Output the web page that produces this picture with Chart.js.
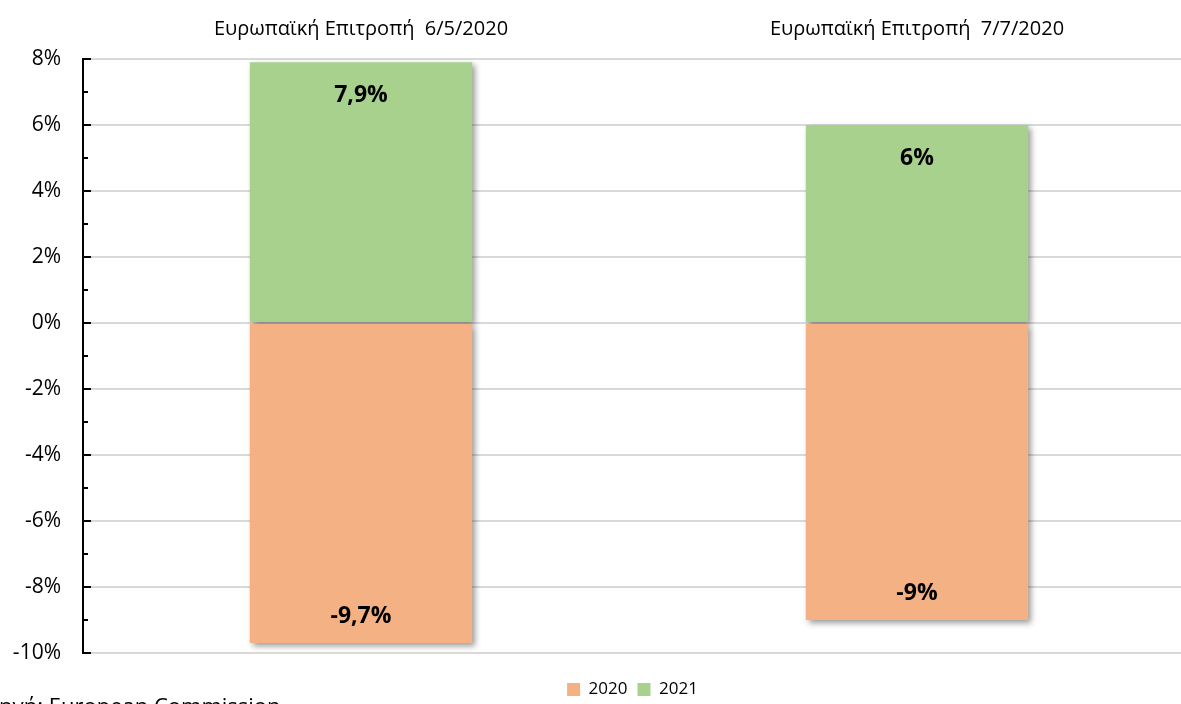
<!DOCTYPE html>
<html>
<head>
<meta charset="utf-8">
<script src="https://cdn.jsdelivr.net/npm/chart.js@4.4.1/dist/chart.umd.min.js"></script>
<style>
  html, body { margin: 0; padding: 0; background: #fff; overflow: hidden; }
  #wrap { width: 1200px; height: 704px; position: relative; }
</style>
</head>
<body>
<div id="wrap"><canvas id="myChart"></canvas></div>
<script>
var categories = ['Ευρωπαϊκή Επιτροπή  6/5/2020', 'Ευρωπαϊκή Επιτροπή  7/7/2020'];
var values2020 = [-9.7, -9];
var values2021 = [7.9, 6];
var yTicks = [-10, -8, -6, -4, -2, 0, 2, 4, 6, 8];
var sourceText = 'Πηγή: European Commission';

var FONT = "'Open Sans', 'Noto Sans', sans-serif";

// shadow under the bars
var barShadow = {
  id: 'barShadow',
  beforeDatasetsDraw: function (chart) {
    var ctx = chart.ctx;
    ctx.save();
    ctx.shadowColor = 'rgba(0,0,0,0.4)';
    ctx.shadowBlur = 6;
    ctx.shadowOffsetX = 3;
    ctx.shadowOffsetY = 3;
  },
  afterDatasetsDraw: function (chart) {
    chart.ctx.restore();
  }
};

// bold value labels inside the bar ends
var valueLabels = {
  id: 'valueLabels',
  afterDatasetsDraw: function (chart) {
    var ctx = chart.ctx;
    ctx.save();
    ctx.font = 'bold 23px ' + FONT;
    ctx.fillStyle = '#000';
    ctx.textAlign = 'center';
    ctx.textBaseline = 'middle';
    chart.data.datasets.forEach(function (ds, di) {
      chart.getDatasetMeta(di).data.forEach(function (bar, i) {
        var v = ds.data[i];
        var txt = String(v).replace('.', ',') + '%';
        var y = v >= 0 ? bar.y + 33 : bar.y - 27;
        ctx.fillText(txt, bar.x, y);
      });
    });
    ctx.restore();
  }
};

// move the legend a bit right, like the original
var legendShift = {
  id: 'legendShift',
  afterLayout: function (chart) {
    chart.legend.left += 35;
    chart.legend.right += 35;
  }
};

// inside tick marks on the y axis + source note
var axisExtras = {
  id: 'axisExtras',
  afterDraw: function (chart) {
    var ctx = chart.ctx;
    var y = chart.scales.y;
    var x0 = y.right;
    ctx.save();
    ctx.strokeStyle = '#000';
    ctx.lineWidth = 2;
    for (var v = y.min; v <= y.max; v++) {
      var py = Math.round(y.getPixelForValue(v));
      var len = (v % 2 === 0) ? 8 : 5;
      ctx.beginPath();
      ctx.moveTo(x0 - 1, py);
      ctx.lineTo(x0 + len, py);
      ctx.stroke();
    }
    ctx.font = '22px ' + FONT;
    ctx.fillStyle = '#000';
    ctx.textAlign = 'left';
    ctx.textBaseline = 'alphabetic';
    ctx.fillText(sourceText, -17, 714);
    ctx.restore();
  }
};

var data = {
  labels: categories,
  datasets: [
    {
      label: '2020',
      data: values2020,
      backgroundColor: '#F4B183',
      barPercentage: 0.4,
      categoryPercentage: 1
    },
    {
      label: '2021',
      data: values2021,
      backgroundColor: '#A9D18E',
      barPercentage: 0.4,
      categoryPercentage: 1
    }
  ]
};

var config = {
  type: 'bar',
  data: data,
  plugins: [barShadow, valueLabels, legendShift, axisExtras],
  options: {
    responsive: false,
    animation: false,
    layout: { padding: { top: 0, right: 5, left: 0, bottom: -4 } },
    plugins: {
      legend: {
        position: 'bottom',
        labels: {
          boxWidth: 13,
          boxHeight: 13,
          padding: 10,
          color: '#000',
          font: { family: FONT, size: 17 }
        }
      },
      tooltip: { enabled: false }
    },
    scales: {
      x: {
        position: 'top',
        stacked: true,
        grid: { display: false },
        border: { display: false },
        ticks: {
          color: '#000',
          padding: 10,
          font: { family: FONT, size: 20 }
        },
        afterFit: function (s) { s.height = 59; }
      },
      xb: {
        type: 'category',
        position: 'bottom',
        display: true,
        grid: { display: false },
        border: { display: false },
        ticks: { display: false },
        afterFit: function (s) { s.height = 18; }
      },
      y: {
        stacked: true,
        min: -10,
        max: 8,
        afterBuildTicks: function (s) {
          s.ticks = yTicks.map(function (v) { return { value: v }; });
        },
        grid: { color: '#d9d9d9', lineWidth: 2, drawTicks: false },
        border: { display: true, color: '#000', width: 2 },
        ticks: {
          color: '#000',
          padding: 22,
          font: { family: FONT, size: 21 },
          callback: function (v) { return v + '%'; }
        },
        afterFit: function (s) { s.width = 83; }
      }
    }
  }
};

var canvas = document.getElementById('myChart');
canvas.width = 1200;
canvas.height = 704;
var myChart = new Chart(canvas, config);
</script>
</body>
</html>
